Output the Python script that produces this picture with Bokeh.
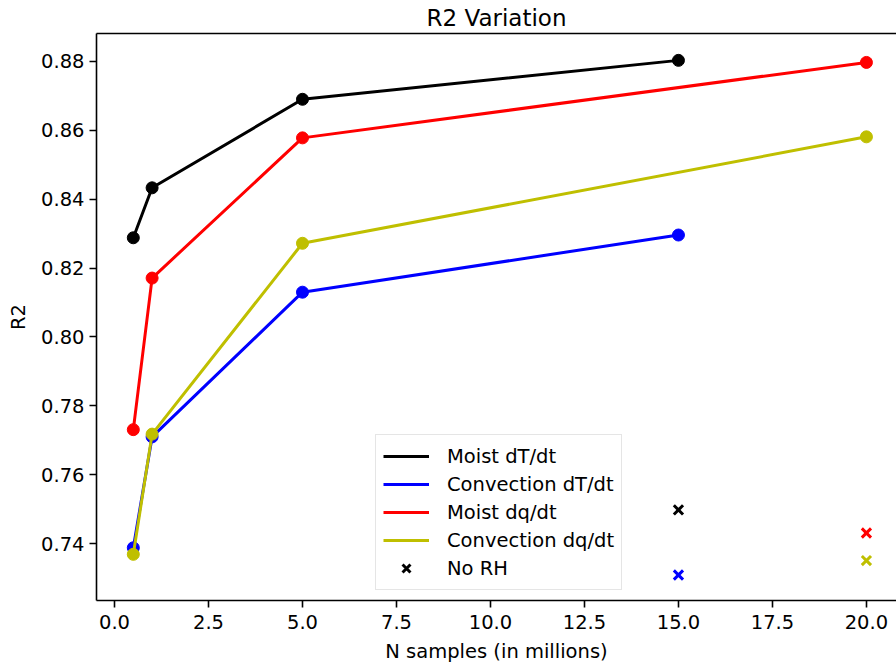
from bokeh.plotting import figure
from bokeh.models import (Range1d, FixedTicker, PrintfTickFormatter, Legend,
                          LegendItem, LinearAxis, ColumnDataSource)
from bokeh.embed import file_html
from bokeh.resources import INLINE

# ---- data ----
x_dT = [0.5, 1, 5, 15]
x_dq = [0.5, 1, 5, 20]
moist_dT = [0.8288, 0.8433, 0.8690, 0.8803]
conv_dT = [0.7388, 0.7710, 0.8130, 0.8296]
moist_dq = [0.7731, 0.8171, 0.8578, 0.8797]
conv_dq = [0.7369, 0.7718, 0.8272, 0.8581]
norh_x = [15, 15, 20, 20]
norh_y = [0.7498, 0.7309, 0.7431, 0.7351]
norh_colors = ["black", "blue", "red", "#bfbf00"]

series_names = ["Moist dT/dt", "Convection dT/dt", "Moist dq/dt", "Convection dq/dt"]
series_colors = ["black", "blue", "red", "#bfbf00"]
x_ticks = [0.0, 2.5, 5.0, 7.5, 10.0, 12.5, 15.0, 17.5, 20.0]
y_ticks = [0.74, 0.76, 0.78, 0.80, 0.82, 0.84, 0.86, 0.88]
title_text = "R2 Variation"

FONT = "DejaVu Sans"
FS = "19.5px"

p = figure(width=896, height=665, output_backend="svg", toolbar_location=None,
           x_range=Range1d(-0.479, 20.8), y_range=Range1d(0.7235, 0.8881),
           min_border_left=96, min_border_right=0, min_border_top=33,
           min_border_bottom=65)
p.outline_line_color = None
p.grid.visible = False
p.background_fill_color = "white"
p.border_fill_color = "white"

p.title.text = title_text
p.title.align = "center"
p.title.text_font = FONT
p.title.text_font_size = "23px"
p.title.text_font_style = "normal"
p.title.text_color = "black"
p.title.text_line_height = 0.7
p.title.standoff = 5

for ax in (p.xaxis[0], p.yaxis[0]):
    ax.axis_line_width = 1.6
    ax.axis_line_color = "black"
    ax.major_tick_line_width = 1.6
    ax.major_tick_out = 7
    ax.major_tick_in = 0
    ax.minor_tick_line_color = None
    ax.major_label_text_font = FONT
    ax.major_label_text_font_size = FS
    ax.major_label_text_color = "black"
    ax.axis_label_text_font = FONT
    ax.axis_label_text_font_size = FS
    ax.axis_label_text_font_style = "normal"
    ax.axis_label_text_color = "black"

p.xaxis[0].ticker = FixedTicker(ticks=x_ticks)
p.xaxis[0].formatter = PrintfTickFormatter(format="%.1f")
p.xaxis[0].axis_label = "N samples (in millions)"
p.xaxis[0].major_label_standoff = 7
p.xaxis[0].axis_label_standoff = 8
p.yaxis[0].ticker = FixedTicker(ticks=y_ticks)
p.yaxis[0].formatter = PrintfTickFormatter(format="%.2f")
p.yaxis[0].axis_label = "R2"
p.yaxis[0].major_label_standoff = 5
p.yaxis[0].axis_label_standoff = 8

# top border line
top = LinearAxis(major_tick_line_color=None, minor_tick_line_color=None,
                 major_label_text_font_size="0px", axis_line_width=1.6,
                 axis_line_color="black", ticker=FixedTicker(ticks=[]))
p.add_layout(top, "above")

items = []
ys_all = [moist_dT, conv_dT, moist_dq, conv_dq]
xs_all = [x_dT, x_dT, x_dq, x_dq]
for name, color, xs, ys in zip(series_names, series_colors, xs_all, ys_all):
    src = ColumnDataSource(dict(x=xs, y=ys))
    lr = p.line("x", "y", source=src, line_color=color, line_width=3)
    p.scatter("x", "y", source=src, marker="circle", size=12,
              fill_color=color, line_color=color)
    items.append(LegendItem(label=name, renderers=[lr]))

nsrc = ColumnDataSource(dict(x=norh_x, y=norh_y, c=norh_colors))
xr = p.scatter("x", "y", source=nsrc, marker="x", size=13, line_width=3,
               line_color="c")
items.append(LegendItem(label="No RH", renderers=[xr], index=0))

legend = Legend(items=items, location=(279, 10))
legend.label_text_font = FONT
legend.label_text_font_size = FS
legend.label_text_color = "black"
legend.glyph_width = 46
legend.glyph_height = 28
legend.label_height = 28
legend.label_standoff = 18
legend.spacing = 0
legend.padding = 7
legend.margin = 0
legend.border_line_color = "#cccccc"
legend.border_line_width = 1.5
legend.background_fill_alpha = 0.8
p.add_layout(legend, "center")

open("out.html", "w").write(file_html(p, INLINE))
